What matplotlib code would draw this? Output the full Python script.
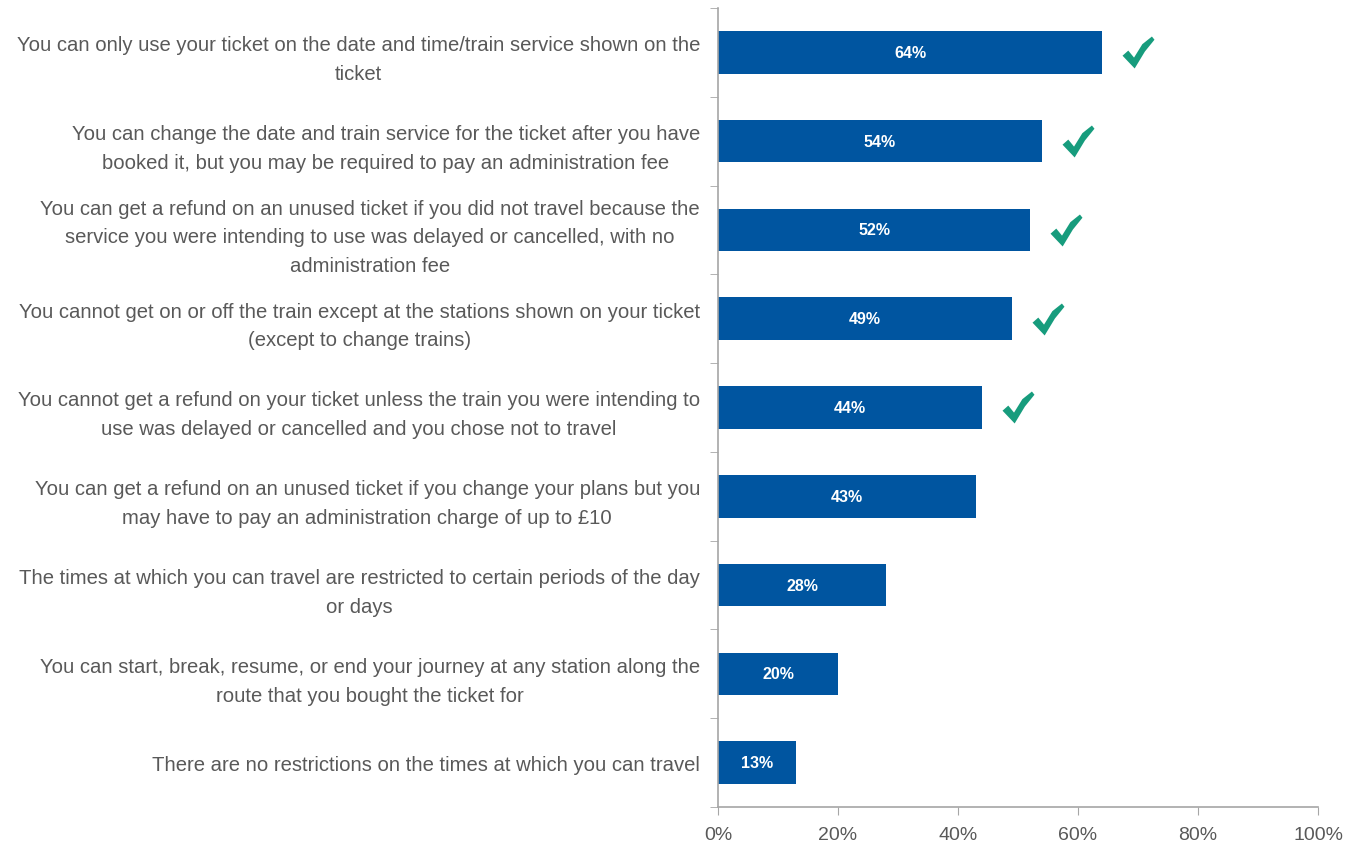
import matplotlib.pyplot as plt
import numpy as np
from matplotlib.path import Path

labels = [
    "You can only use your ticket on the date and time/train service shown on the\nticket",
    "You can change the date and train service for the ticket after you have\nbooked it, but you may be required to pay an administration fee",
    "You can get a refund on an unused ticket if you did not travel because the\nservice you were intending to use was delayed or cancelled, with no\nadministration fee",
    "You cannot get on or off the train except at the stations shown on your ticket\n(except to change trains)",
    "You cannot get a refund on your ticket unless the train you were intending to\nuse was delayed or cancelled and you chose not to travel",
    "You can get a refund on an unused ticket if you change your plans but you\nmay have to pay an administration charge of up to £10",
    "The times at which you can travel are restricted to certain periods of the day\nor days",
    "You can start, break, resume, or end your journey at any station along the\nroute that you bought the ticket for",
    "There are no restrictions on the times at which you can travel",
]
values = [64, 54, 52, 49, 44, 43, 28, 20, 13]
correct = [True, True, True, True, True, False, False, False, False]
xticks = [0, 20, 40, 60, 80, 100]

label_font = ["Liberation Sans", "DejaVu Sans"]
bar_color = "#0055A0"
check_color = "#179C7D"
axis_color = "#A6A6A6"
text_color = "#595959"

# check mark shape used as a marker
check = Path([(-0.5, -0.1), (-0.32, 0.06), (-0.14, -0.16), (0.12, 0.26),
              (0.42, 0.5), (0.5, 0.4), (0.2, 0.03), (-0.12, -0.5),
              (-0.5, -0.1)], closed=True)

fig = plt.figure(figsize=(13.57, 8.45), dpi=100)
ax = fig.add_axes([0.5291, 0.0438, 0.4422, 0.9456])

y = np.arange(len(values))
ax.barh(y, values, height=0.48, color=bar_color, zorder=2)
ax.set_ylim(len(values) - 0.5, -0.5)
ax.set_xlim(0, 100)

for yi, v, ok in zip(y, values, correct):
    ax.text(v / 2, yi, f"{v}%", ha="center", va="center", color="white",
            fontsize=11.5, fontweight="bold", family=label_font)
    if ok:
        ax.plot(v + 6, yi, marker=check, markersize=23, color=check_color,
                markeredgewidth=0, linestyle="none", clip_on=False)

ax.set_yticks(y)
ax.set_yticklabels(labels, family=label_font, fontsize=14.6, color=text_color,
                   multialignment="center", linespacing=1.65)
ax.tick_params(axis="y", which="major", length=0, pad=13)
ax.set_yticks(np.arange(-0.5, len(values) + 0.5, 1), minor=True)
ax.tick_params(axis="y", which="minor", length=6, color=axis_color, direction="out")

ax.set_xticks(xticks)
ax.set_xticklabels([f"{t}%" for t in xticks], family=label_font, fontsize=14, color=text_color)
ax.tick_params(axis="x", length=6, color=axis_color, direction="out", pad=8)

for s in ["top", "right"]:
    ax.spines[s].set_visible(False)
for s in ["left", "bottom"]:
    ax.spines[s].set_color(axis_color)
    ax.spines[s].set_linewidth(1.2)

fig.savefig("out.png", dpi=100)
